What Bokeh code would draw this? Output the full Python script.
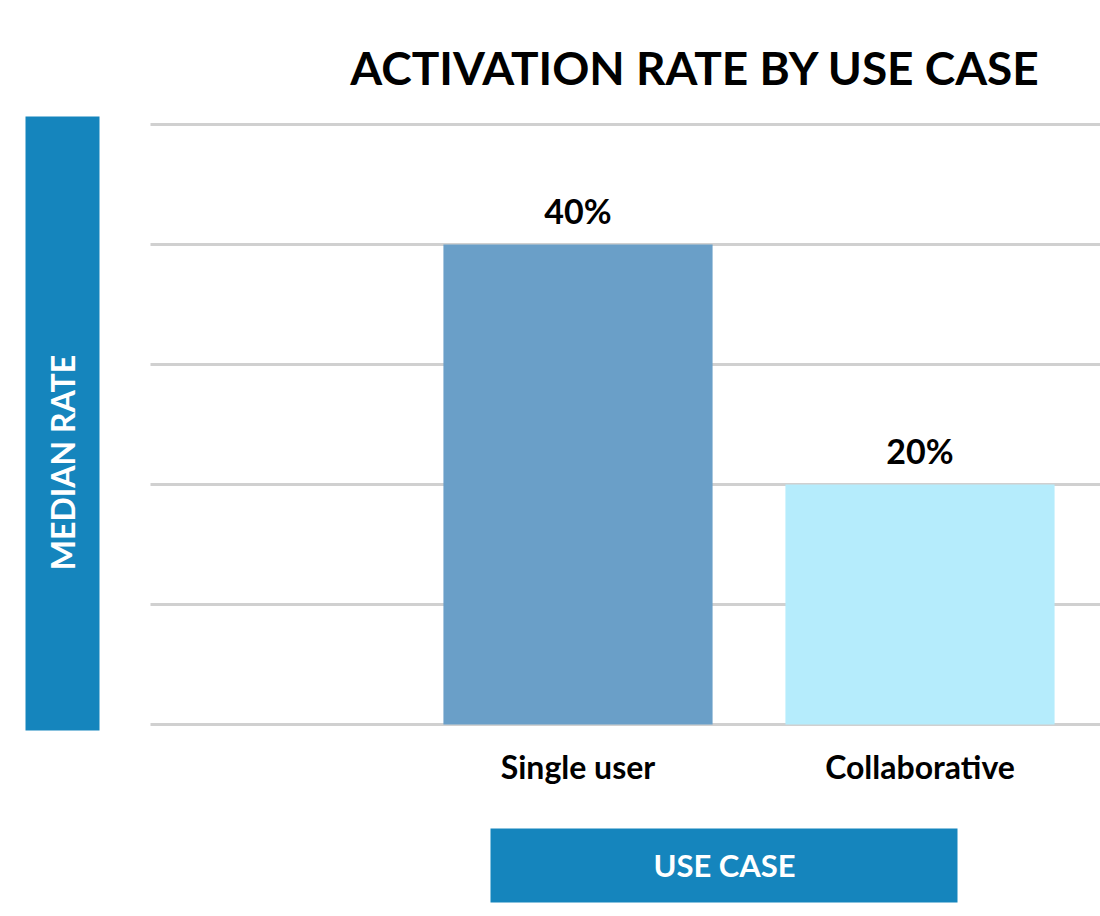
from math import pi
from bokeh.plotting import figure
from bokeh.models import (ColumnDataSource, Range1d, BoxAnnotation, Label, LabelSet)
from bokeh.core.properties import value
from bokeh.embed import file_html
from bokeh.resources import INLINE

# ---- data ----
categories = ["Single user", "Collaborative"]
rates = [40, 20]
rate_labels = ["40%", "20%"]
bar_colors = ["#6a9fc8", "#b5ecfc"]
grid_ticks = [0, 10, 20, 30, 40, 50]
title_text = "ACTIVATION RATE BY USE CASE"
y_label = "MEDIAN RATE"
x_label = "USE CASE"

FONT = "Lato"
BLUE = "#1585bd"
W, H = 1100, 916

x_pos = [i + 1 for i in range(len(categories))]
src = ColumnDataSource(dict(x=x_pos, top=rates, label=rate_labels,
                            cat=categories, color=bar_colors))

# the frame fills the whole canvas: 342 px per category, 12 px per percent
x_start = 1 - 577.5 / 342
y_start = -(H - 724) / 12
p = figure(width=W, height=H, output_backend="svg", toolbar_location=None,
           x_range=Range1d(x_start, x_start + W / 342),
           y_range=Range1d(y_start, y_start + H / 12),
           x_axis_location=None, y_axis_location=None,
           min_border=0)
p.outline_line_color = None
p.background_fill_color = "white"
p.border_fill_color = "white"
p.xgrid.visible = False
p.ygrid.visible = False

# horizontal grid lines (plot area starts 150 px from the left edge)
grid_x0 = x_start + 150 / 342
p.segment(x0=[grid_x0] * len(grid_ticks), x1=[x_start + W / 342] * len(grid_ticks),
          y0=grid_ticks, y1=grid_ticks, line_color="#d0d0d0", line_width=3)

p.vbar(x="x", top="top", bottom=0, width=0.787, fill_color="color",
       line_color=None, source=src)

# value labels
p.add_layout(LabelSet(x="x", y="top", text="label", source=src, y_offset=21,
                      text_align="center", text_baseline="alphabetic",
                      text_font=value(FONT), text_font_style="bold",
                      text_font_size="34px", text_color="black"))
# category labels
p.add_layout(LabelSet(x="x", y=0, text="cat", source=src, y_offset=-54,
                      text_align="center", text_baseline="alphabetic",
                      text_font=value(FONT), text_font_style="bold",
                      text_font_size="32px", text_color="black"))

# axis-title boxes (screen units: from the bottom-left corner)
p.add_layout(BoxAnnotation(left=25, right=99, top=H - 116, bottom=H - 730,
                           left_units="screen", right_units="screen",
                           top_units="screen", bottom_units="screen",
                           fill_color=BLUE, fill_alpha=1, line_color=None))
p.add_layout(BoxAnnotation(left=490, right=957, top=H - 828, bottom=H - 902,
                           left_units="screen", right_units="screen",
                           top_units="screen", bottom_units="screen",
                           fill_color=BLUE, fill_alpha=1, line_color=None))

p.add_layout(Label(x=62, y=H - 462, x_units="screen", y_units="screen",
                   text=y_label, angle=pi / 2, text_align="center",
                   text_baseline="middle", text_font=FONT, text_font_style="bold",
                   text_font_size="32px", text_color="white"))
p.add_layout(Label(x=724, y=H - 864, x_units="screen", y_units="screen",
                   text=x_label, text_align="center", text_baseline="middle",
                   text_font=FONT, text_font_style="bold",
                   text_font_size="31px", text_color="white"))
p.add_layout(Label(x=695, y=H - 67, x_units="screen", y_units="screen",
                   text=title_text, text_align="center", text_baseline="middle",
                   text_font=FONT, text_font_style="bold",
                   text_font_size="46px", text_color="black"))

open("out.html", "w").write(file_html(p, INLINE))
